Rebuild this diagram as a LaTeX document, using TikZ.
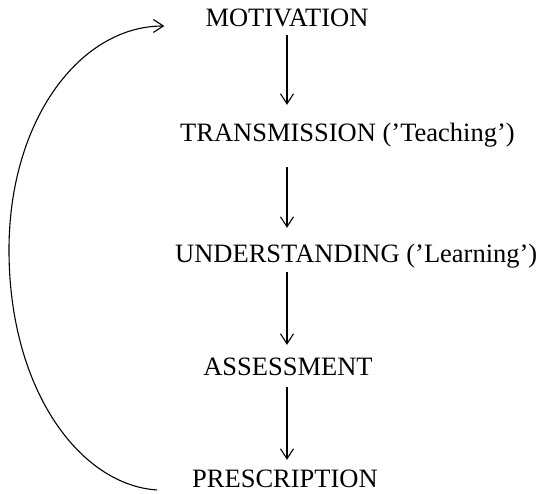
\documentclass[tikz,border=0pt]{standalone}
\usepackage{fontspec}
\setmainfont{Liberation Serif}
\usetikzlibrary{arrows.meta}

\begin{document}
\begin{tikzpicture}[x=1pt, y=1pt,
  stage/.style={inner sep=0pt, text height=18pt, text depth=6pt,
    font=\fontsize{26.5}{30}\selectfont},
  flow/.style={line width=1.1pt, -{Straight Barb[length=10pt,width=13pt]}}]
\useasboundingbox (0,0) rectangle (550,494);

\node[stage, anchor=base] (A) at (287,467) {MOTIVATION};
\node[stage, anchor=base west] (B) at (180,352) {TRANSMISSION ('Teaching')};
\node[stage, anchor=base west] (C) at (175,231) {UNDERSTANDING ('Learning')};
\node[stage, anchor=base] (D) at (288,118) {ASSESSMENT};
\node[stage, anchor=base] (E) at (285,6) {PRESCRIPTION};

\draw[flow, shorten <=2pt, shorten >=19pt] (A.south) -- (A.south |- B.north);
\draw[flow, shorten <=19pt, shorten >=17pt] (A.south |- B.south) -- (A.south |- C.north);
\draw[flow, shorten <=3pt, shorten >=13pt] (A.south |- C.south) -- (A.south |- D.north);
\draw[flow, shorten <=5pt, shorten >=10pt] (A.south |- D.south) -- (A.south |- E.north);

% loop back from the last stage to the first
\draw[flow] ([shift={(-35,-2)}]E.base west) .. controls (80,9) and (9,104) .. (9,244)
  .. controls (9,374) and (80,468) .. ([shift={(-41,1)}]A.base west);
\end{tikzpicture}
\end{document}
